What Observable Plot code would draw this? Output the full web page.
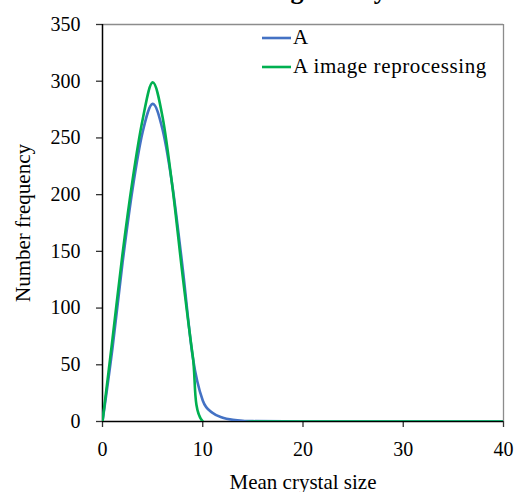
<!DOCTYPE html>
<html>
<head>
<meta charset="utf-8">
<script src="https://cdn.jsdelivr.net/npm/d3@7"></script>
<script src="https://cdn.jsdelivr.net/npm/@observablehq/plot@0.6"></script>
<style>
  html, body { margin: 0; padding: 0; background: white; }
  svg { overflow: hidden; }
</style>
</head>
<body>
<div id="chart"></div>
<script>
// ---- data ----
const titleText = "Image Analysis";
const xLabel = "Mean crystal size";
const yLabel = "Number frequency";
const seriesNames = ["A", "A image reprocessing"];
const seriesColors = ["#4472C4", "#00B050"];

const xTicks = [0, 10, 20, 30, 40];
const yTicks = [0, 50, 100, 150, 200, 250, 300, 350];

const sizeA = [0, 1, 2, 3, 4, 5, 6, 7, 8, 9, 10, 11, 12, 13, 14, 15, 20, 25, 30, 35, 40];
const freqA = [0, 65, 140, 205, 255, 280, 257, 206, 135, 57, 18.5, 7.5, 3.3, 1.5, 0.6, 0.3, 0, 0, 0, 0, 0];

const sizeB = [0, 1, 2, 3, 4, 5, 6, 7, 8, 9, 10, 15, 20, 25, 30, 35, 40];
const freqB = [0, 73, 148, 213, 266, 299, 268, 205, 128, 58, 0, 0, 0, 0, 0, 0, 0];

// ---- build tables ----
const dataA = sizeA.map((x, i) => ({x, y: freqA[i]}));
const dataB = sizeB.map((x, i) => ({x, y: freqB[i]}));

const font = "'Liberation Serif', 'Times New Roman', serif";

const chart = Plot.plot({
  width: 514,
  height: 492,
  marginLeft: 102,
  marginRight: 11,
  marginTop: 24,
  marginBottom: 71,
  style: {fontFamily: font, fontSize: "20px", color: "black", background: "white"},
  x: {domain: [0, 40]},
  y: {domain: [0, 350]},
  marks: [
    Plot.ruleY([350], {stroke: "#8c8c8c", strokeWidth: 1.3}),
    Plot.ruleX([40], {stroke: "#8c8c8c", strokeWidth: 1.3}),
    Plot.axisY({ticks: yTicks, tickSize: 6, tickPadding: 16, label: null, fontSize: 20, stroke: "#333", strokeWidth: 1.3}),
    Plot.axisX({ticks: xTicks, tickSize: 6, tickPadding: 14, label: null, fontSize: 20, stroke: "#333", strokeWidth: 1.3}),
    Plot.ruleX([0], {stroke: "black", strokeWidth: 1.5}),
    Plot.ruleY([0], {stroke: "black", strokeWidth: 1.5}),
    Plot.line(dataA, {x: "x", y: "y", stroke: seriesColors[0], strokeWidth: 2.6, curve: "cardinal", tension: 0, clip: true}),
    Plot.line(dataB, {x: "x", y: "y", stroke: seriesColors[1], strokeWidth: 2.6, curve: "cardinal", tension: 0, clip: true}),
    Plot.text([xLabel], {frameAnchor: "bottom", textAnchor: "middle", dy: 67, lineAnchor: "bottom", fontSize: 21, fill: "black", style: {letterSpacing: "1.1px"}}),
    Plot.text([yLabel], {frameAnchor: "left", textAnchor: "middle", dx: -73, dy: 0, rotate: -90, lineAnchor: "bottom", fontSize: 21, fill: "black", style: {letterSpacing: "0.9px"}})
  ]
});

// legend and clipped title drawn into the same SVG
const svg = d3.select(chart);
svg.append("text")
  .attr("x", 330).attr("y", -1)
  .attr("text-anchor", "middle")
  .attr("font-family", font).attr("font-weight", "bold").attr("font-size", 26)
  .attr("fill", "black")
  .text(titleText);

const leg = svg.append("g");
seriesNames.forEach((name, i) => {
  const yy = 38 + i * 29;
  leg.append("line")
    .attr("x1", 262).attr("x2", 291).attr("y1", yy).attr("y2", yy)
    .attr("stroke", seriesColors[i]).attr("stroke-width", 2.6);
  leg.append("text")
    .attr("x", 293).attr("y", yy + 6)
    .attr("text-anchor", "start")
    .attr("font-family", font).attr("font-size", 21)
    .attr("letter-spacing", "0.6px")
    .attr("fill", "black")
    .text(name);
});

document.getElementById("chart").appendChild(chart);
</script>
</body>
</html>
